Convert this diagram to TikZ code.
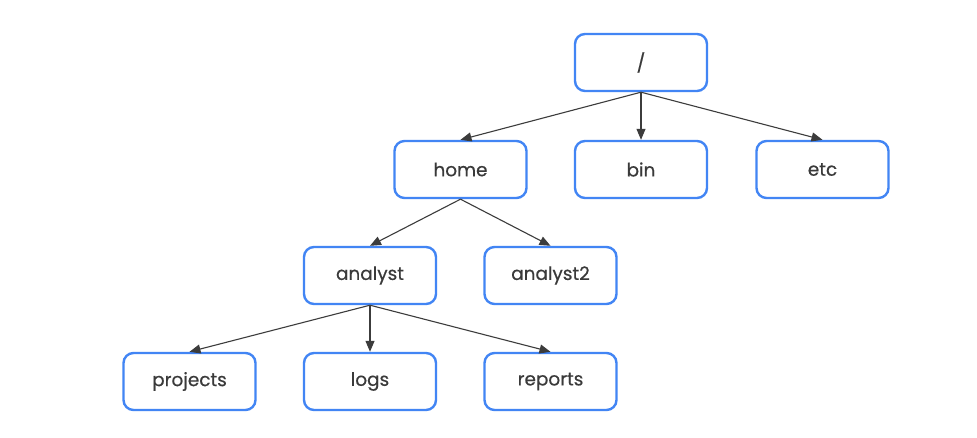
\documentclass[tikz,border=0pt]{standalone}
\usepackage{fontspec}
\setmainfont{Poppins}[FakeBold=0.5]
\usetikzlibrary{arrows.meta}
\definecolor{dirblue}{HTML}{4285F4}
\definecolor{linkgray}{HTML}{3C3C3C}
\definecolor{labelgray}{HTML}{3A3A3A}
\begin{document}
\begin{tikzpicture}[x=1bp,y=-1bp,
  dirbox/.style={draw=dirblue, line width=2.4bp, rounded corners=10bp,
    minimum width=132bp, minimum height=57bp, inner sep=0pt,
    text=labelgray, font=\fontsize{18.5}{22}\selectfont},
  link/.style={draw=linkgray, line width=1.1bp,
    -{Triangle[length=11bp,width=9bp]}}]
\useasboundingbox[fill=white] (0,0) rectangle (977,438);
% directory nodes
\node[dirbox] (root) at (641,62.5) {/};
\node[dirbox] (home) at (460.5,169.5) {home};
\node[dirbox] (bin) at (641,169.5) {bin};
\node[dirbox] (etc) at (822.5,169.5) {etc};
\node[dirbox] (analyst) at (370,275.5) {analyst};
\node[dirbox] (analyst2) at (550.5,275.5) {analyst2};
\node[dirbox] (projects) at (189.5,381.5) {projects};
\node[dirbox] (logs) at (370,381.5) {logs};
\node[dirbox] (reports) at (550.5,381.5) {reports};
% parent -> child links
\draw[link] (root.south) -- (home.north);
\draw[link] (root.south) -- (bin.north);
\draw[link] (root.south) -- (etc.north);
\draw[link] (home.south) -- (analyst.north);
\draw[link] (home.south) -- (analyst2.north);
\draw[link] (analyst.south) -- (projects.north);
\draw[link] (analyst.south) -- (logs.north);
\draw[link] (analyst.south) -- (reports.north);
\end{tikzpicture}
\end{document}
